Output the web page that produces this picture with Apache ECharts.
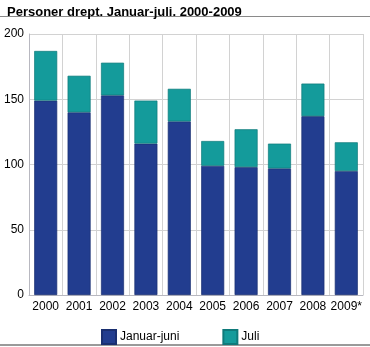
<!DOCTYPE html>
<html><head><meta charset="utf-8">
<script src="https://cdn.jsdelivr.net/npm/echarts@6/dist/echarts.min.js"></script>
<style>html,body{margin:0;padding:0;background:#fff}#c{width:370px;height:347px}</style>
</head><body><div id="c"></div>
<script>
const categories = ['2000','2001','2002','2003','2004','2005','2006','2007','2008','2009*'];
const januarJuni = [149, 140, 153, 116, 133, 99, 98, 97, 137, 95];
const juli = [38, 28, 25, 33, 25, 19, 29, 19, 25, 22];
const yTicks = [0, 50, 100, 150, 200];
const titleText = 'Personer drept. Januar-juli. 2000-2009';

const chart = echarts.init(document.getElementById('c'));
const font = 'Liberation Sans, Arial, sans-serif';
chart.setOption({
  animation: false,
  textStyle: {fontFamily: font},
  title: {text: titleText, left: 2, top: 1,
    textStyle: {fontSize: 13, fontWeight: 'bold', color: '#000', fontFamily: font}},
  graphic: [
    {type: 'rect', shape: {x: 0, y: 16, width: 370, height: 1}, style: {fill: '#8a8a8a'}},
    {type: 'rect', shape: {x: 0, y: 344, width: 370, height: 2}, style: {fill: '#9a9a9a'}}
  ],
  legend: {top: 324, left: 96, itemWidth: 14, itemHeight: 14, itemGap: 43,
    icon: 'rect', textStyle: {fontSize: 12, color: '#000', padding: [0,0,0,-1]},
    data: ['Januar-juni', 'Juli']},
  grid: {left: 29, right: 7, top: 34, bottom: 52, containLabel: false},
  xAxis: {type: 'category', data: categories,
    axisLine: {show: true, lineStyle: {color: '#b8b8c0', width: 1}},
    axisTick: {show: false},
    splitLine: {show: true, lineStyle: {color: '#d2d2d2', width: 1}},
    axisLabel: {color: '#000', fontSize: 12, margin: 6, interval: 0}},
  yAxis: {type: 'value', min: 0, max: 200, interval: 50,
    axisLine: {show: true, lineStyle: {color: '#b8b8c0'}},
    axisTick: {show: false},
    splitLine: {lineStyle: {color: '#d2d2d2', width: 1}},
    axisLabel: {color: '#000', fontSize: 12, margin: 5,
      formatter: v => yTicks.includes(v) ? String(v) : ''}},
  series: [
    {name: 'Januar-juni', type: 'bar', stack: 't', data: januarJuni, barWidth: 23,
      itemStyle: {color: '#223d8f', borderColor: '#1a2f70', borderWidth: 0.7}},
    {name: 'Juli', type: 'bar', stack: 't', data: juli, barWidth: 23,
      itemStyle: {color: '#149b9b', borderColor: '#0f7a7a', borderWidth: 0.7}}
  ]
});
</script></body></html>
